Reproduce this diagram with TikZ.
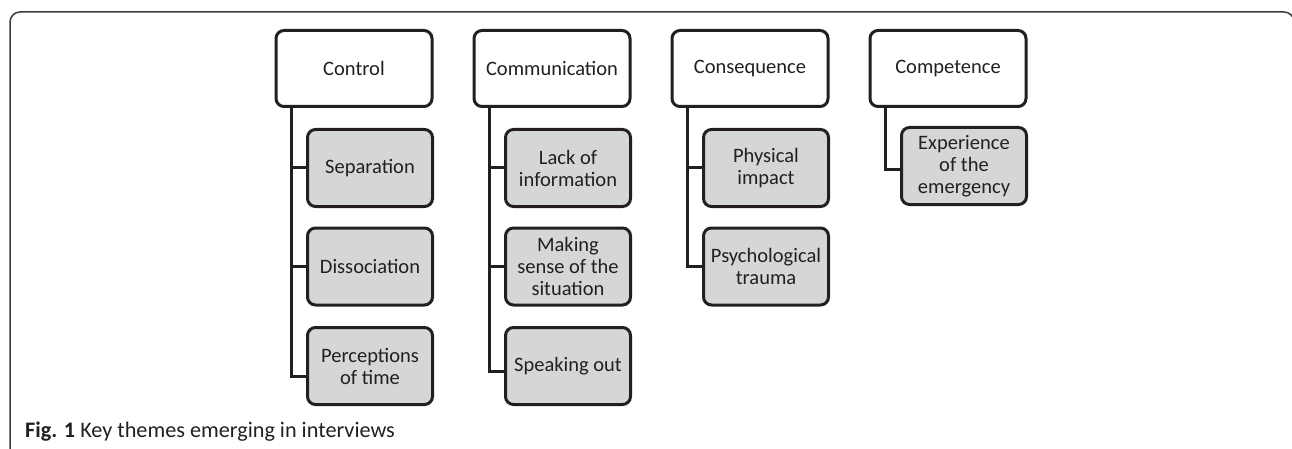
\documentclass[tikz,border=0pt]{standalone}
\usepackage{fontspec}
\setmainfont{Carlito}
\definecolor{boxline}{HTML}{231F20}
\definecolor{boxfill}{HTML}{D5D6D8}
\definecolor{frameline}{HTML}{3A3A3A}

\begin{document}
\begin{tikzpicture}[x=1pt, y=-1pt,
        theme/.style={draw=boxline, line width=3pt, rounded corners=8pt, fill=white,
            minimum width=156pt, minimum height=76pt, align=center, inner sep=2pt,
            text=boxline, font=\fontsize{20.5}{22}\selectfont},
        subtheme/.style={theme, fill=boxfill, minimum width=125pt, minimum height=77pt},
        branch/.style={draw=boxline, line width=3pt}]
        \useasboundingbox (0,0) rectangle (1292,449);
        \clip (0,0) rectangle (1292,449);

        % Frame
        \draw[frameline, line width=1.5pt, rounded corners=10pt] (10,470) -- (10,12) -- (1294,12) -- (1294,470);

        % Themes
        \node[theme] (control) at (354,68.5) {Control};
        \node[theme] (communication) at (552,68.5) {Communication};
        \node[theme] (consequence) at (750,68.5) {Consequence};
        \node[theme] (competence) at (948,68.5) {Competence};

        % Control
        \node[subtheme] (separation) at (370,168) {Separation};
        \node[subtheme] (dissociation) at (370,266.5) {Dissociation};
        \node[subtheme] (perceptions) at (370,366) {Perceptions\\of time};
        \draw[branch] ([xshift=-62.5pt]control.south) |- (separation.west);
        \draw[branch] ([xshift=-62.5pt]control.south) |- (dissociation.west);
        \draw[branch] ([xshift=-62.5pt]control.south) |- ([yshift=-10pt]perceptions.west);

        % Communication
        \node[subtheme] (lackinfo) at (568,168) {Lack of\\information};
        \node[subtheme] (makingsense) at (568,266.5) {Making\\sense of the\\situation};
        \node[subtheme] (speakingout) at (568,366) {Speaking out};
        \draw[branch] ([xshift=-62.5pt]communication.south) |- (lackinfo.west);
        \draw[branch] ([xshift=-62.5pt]communication.south) |- (makingsense.west);
        \draw[branch] ([xshift=-62.5pt]communication.south) |- ([yshift=-5pt]speakingout.west);

        % Consequence
        \node[subtheme] (physical) at (766,168) {Physical\\impact};
        \node[subtheme] (psychological) at (766,266.5) {Psychological\\trauma};
        \draw[branch] ([xshift=-62.5pt]consequence.south) |- (physical.west);
        \draw[branch] ([xshift=-62.5pt]consequence.south) |- (psychological.west);

        % Competence
        \node[subtheme] (experience) at (964,166) {Experience\\of the\\emergency};
        \draw[branch] ([xshift=-62.5pt]competence.south) |- ([yshift=-4pt]experience.west);

        % Caption
        \node[anchor=base west, inner sep=0pt, text=boxline, font=\fontsize{22.2}{25}\selectfont] (caption) at (25,437)
            {\textbf{Fig. 1} Key themes emerging in interviews};
\end{tikzpicture}
\end{document}
